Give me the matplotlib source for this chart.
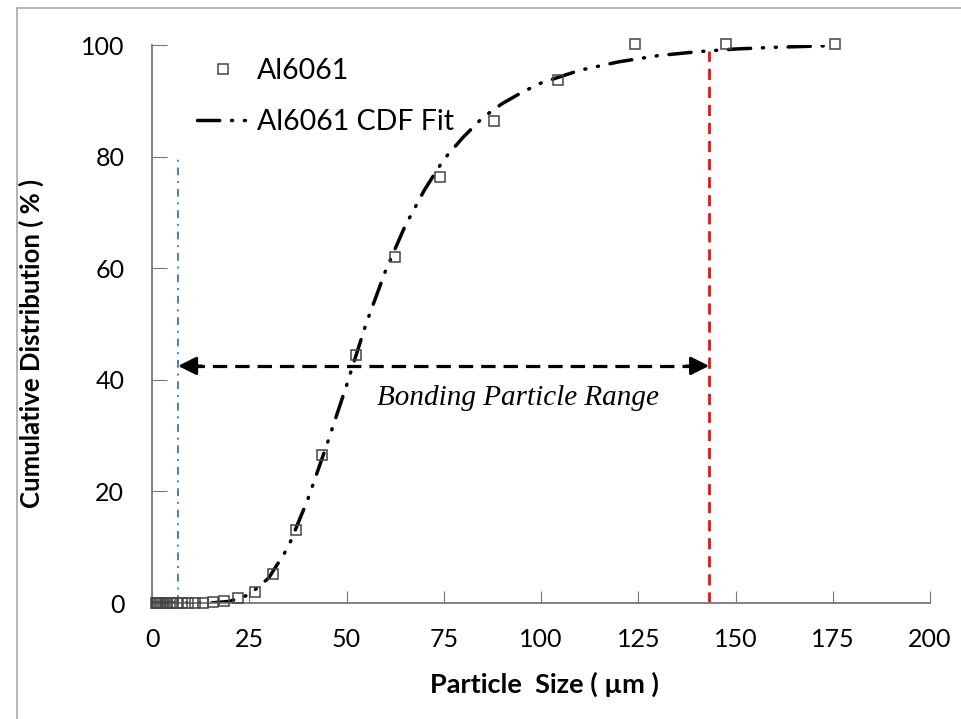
import numpy as np
import matplotlib.pyplot as plt
from matplotlib.lines import Line2D

# datos medidos (tamano de particula en um, distribucion acumulada en %)
size_um = [1.0, 1.2, 1.4, 1.6, 2.0, 2.3, 2.8, 3.3, 3.9, 4.6, 5.5, 6.5, 7.8, 9.3,
           11.0, 13.0, 15.6, 18.5, 22.0, 26.5, 31.0, 37.0, 43.7, 52.4, 62.5,
           74.0, 88.0, 104.4, 124.2, 147.6, 175.6]
cum_pct = [0, 0, 0, 0, 0, 0, 0, 0, 0, 0, 0, 0, 0, 0,
           0, 0.05, 0.15, 0.4, 0.9, 2.0, 5.2, 13.0, 26.5, 44.4, 62.0,
           76.3, 86.4, 93.7, 100.2, 100.2, 100.2]

# ajuste CDF
fit_x = [0, 15, 20, 25, 30, 35, 40, 45, 50, 55, 60, 65, 70, 75, 80, 85, 90,
         95, 100, 110, 120, 130, 140, 150, 160, 175]
fit_y = [0, 0, 0.3, 1.5, 4.5, 10, 18.5, 28.5, 39, 50, 59.5, 67.5, 74, 79.5,
         83.5, 87, 89.5, 91.5, 93.2, 95.5, 97, 98.1, 98.8, 99.3, 99.6, 99.9]

x_min_bond = 6.7
x_max_bond = 143.2
arrow_y = 42.5

fig = plt.figure(figsize=(9.61, 7.19), dpi=100)
ax = fig.add_axes([0.1582, 0.1613, 0.8096, 0.776])

# marco de la imagen
fig.add_artist(Line2D([0.018, 0.018], [0, 0.989], color='#a8a8a8', lw=1.2))
fig.add_artist(Line2D([0.018, 1], [0.989, 0.989], color='#a8a8a8', lw=1.2))

ax.plot(x_min_bond * np.ones(2), [0, 79.5], color='#4a7cc8', lw=1.4,
        linestyle=(0, (4, 3, 1, 3)))
ax.plot(x_max_bond * np.ones(2), [0, 99.0], color='#ee1111', lw=2,
        linestyle=(0, (4, 2.5)))

ax.plot(fit_x, fit_y, color='black', lw=2.5, dash_capstyle='round',
        linestyle=(0, (6.4, 3.4, 0.3, 3.4, 0.3, 3.4)), label='Al6061 CDF Fit')
ax.plot(size_um, cum_pct, linestyle='none', marker='s', markersize=7.5,
        markerfacecolor='none', markeredgecolor='#444444', markeredgewidth=1.1,
        clip_on=False, label='Al6061', zorder=3)

# flecha del rango de union
ax.plot([x_min_bond + 3, x_max_bond - 3], [arrow_y, arrow_y], color='black', lw=2.3,
        linestyle=(0, (4.5, 2.5)))
for xa, xb in [(x_min_bond, x_min_bond + 6), (x_max_bond, x_max_bond - 6)]:
    ax.annotate('', xy=(xa, arrow_y), xytext=(xb, arrow_y),
                arrowprops=dict(arrowstyle='-|>', color='black', lw=2,
                                mutation_scale=28, shrinkA=0, shrinkB=0))
ax.text(94, 36.7, 'Bonding Particle Range', fontsize=21, style='italic',
        family='Liberation Serif', ha='center', va='center')

ax.set_xlim(0, 200)
ax.set_ylim(0, 100)
ax.set_xticks(np.arange(0, 201, 25))
ax.set_yticks(np.arange(0, 101, 20))
ax.tick_params(axis='both', direction='in', labelsize=18, color='#777777')
ax.tick_params(axis='y', length=11, pad=20)
ax.tick_params(axis='x', length=9, pad=18)
for lab in ax.get_xticklabels() + ax.get_yticklabels():
    lab.set_family('Lato')
ax.spines['top'].set_visible(False)
ax.spines['right'].set_visible(False)
ax.spines['left'].set_color('#777777')
ax.spines['bottom'].set_color('#777777')
ax.spines['left'].set_linewidth(1.3)
ax.spines['bottom'].set_linewidth(1.3)

ax.set_xlabel('Particle  Size ( µm )', fontsize=19.5, fontweight='bold', family='Lato')
ax.set_ylabel('Cumulative Distribution ( % )', fontsize=18.5, fontweight='bold',
              family='Lato')
ax.xaxis.set_label_coords(0.505, -0.123)
ax.yaxis.set_label_coords(-0.139, 0.465)

h, l = ax.get_legend_handles_labels()
ax.legend(h[::-1], l[::-1], loc='upper left', bbox_to_anchor=(0.025, 1.022),
          frameon=False, prop={'family': 'Lato', 'size': 20.5}, labelspacing=0.85,
          handlelength=1.8, handletextpad=0.3)

fig.savefig('out.png', dpi=100)
